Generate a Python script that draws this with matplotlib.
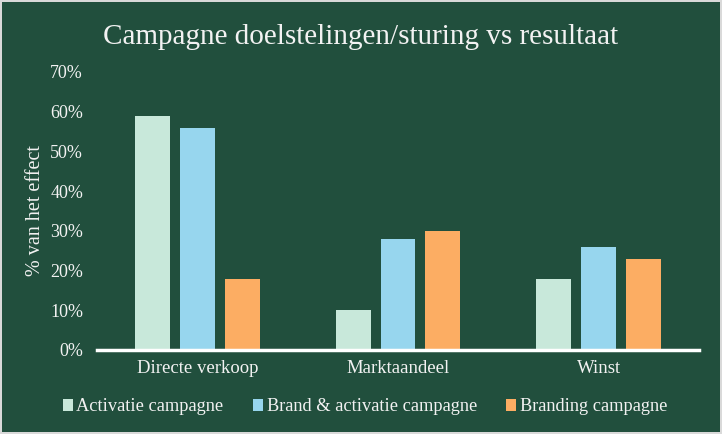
import matplotlib.pyplot as plt
import numpy as np
from matplotlib.ticker import PercentFormatter

categories = ["Directe verkoop", "Marktaandeel", "Winst"]
series_names = ["Activatie campagne", "Brand & activatie campagne", "Branding campagne"]
activatie = [59, 10, 18]
brand_activatie = [56, 28, 26]
branding = [18, 30, 23]

colors = ["#c8e8da", "#97d6ee", "#fcad63"]
bg = "#214f3d"
fg = "#f2f2f2"

plt.rcParams["font.family"] = ["Liberation Serif", "DejaVu Serif"]

fig = plt.figure(figsize=(7.22, 4.34), dpi=100, facecolor=bg)
fig.patch.set_edgecolor("#d9d9d9")
fig.patch.set_linewidth(1.5)
ax = fig.add_axes([97 / 722, 84 / 434, 602 / 722, 278 / 434], facecolor=bg)

x = np.arange(len(categories))
width = 0.174
step = 0.224
for i, (vals, name) in enumerate(zip([activatie, brand_activatie, branding], series_names)):
    ax.bar(x + (i - 1) * step, vals, width, color=colors[i], label=name)

ax.set_xlim(-0.5, 2.5)
ax.set_ylim(0, 70)
ax.set_yticks(range(0, 71, 10))
ax.yaxis.set_major_formatter(PercentFormatter(decimals=0))
ax.set_xticks(x)
ax.set_xticklabels(categories)
ax.tick_params(axis="both", length=0, colors=fg, labelsize=13)
ax.tick_params(axis="x", labelsize=13.5, pad=7)
ax.tick_params(axis="y", pad=10)
for side in ["top", "right", "left"]:
    ax.spines[side].set_visible(False)
ax.spines["bottom"].set_color("white")
ax.spines["bottom"].set_linewidth(2.5)

ax.set_ylabel("% van het effect", color=fg, fontsize=14.5, labelpad=4)
fig.text(0.5, 0.915, "Campagne doelstelingen/sturing vs resultaat", color=fg,
         fontsize=21, ha="center", va="center")

leg = ax.legend(loc="center", bbox_to_anchor=(0.445, -0.205), ncol=3, frameon=False,
                fontsize=13.2, handlelength=0.55, handleheight=0.55, handletextpad=0.2,
                columnspacing=1.6)
for t in leg.get_texts():
    t.set_color(fg)

fig.savefig("out.png", dpi=100, facecolor=bg, edgecolor=fig.patch.get_edgecolor())
